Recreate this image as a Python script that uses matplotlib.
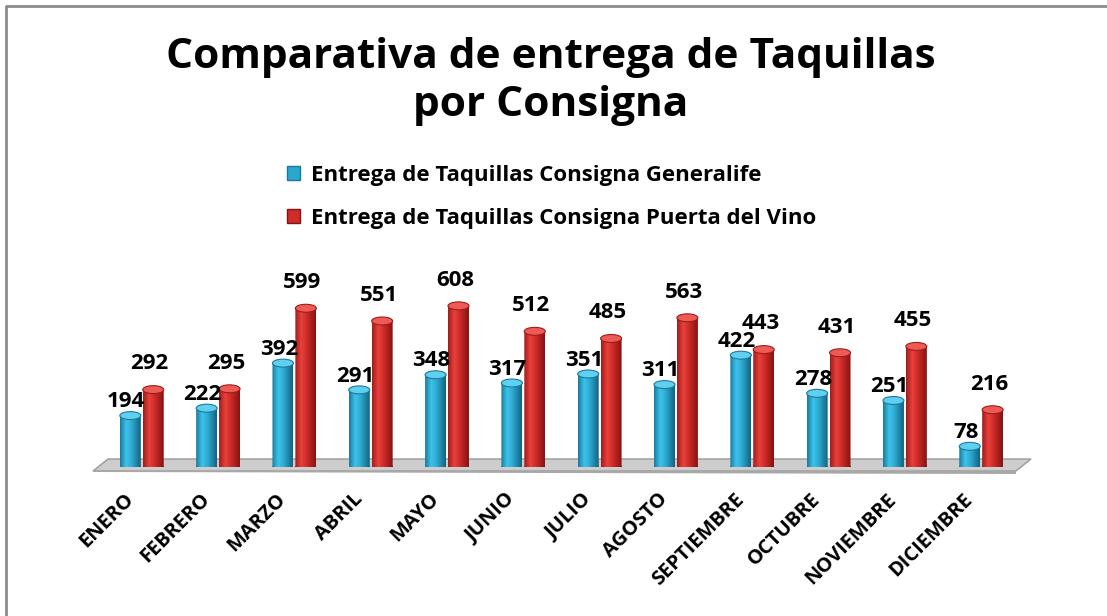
import matplotlib.pyplot as plt
import numpy as np
from matplotlib.colors import LinearSegmentedColormap
from matplotlib.patches import Ellipse, Polygon, Patch
from matplotlib.lines import Line2D
from matplotlib.path import Path

meses = ['ENERO', 'FEBRERO', 'MARZO', 'ABRIL', 'MAYO', 'JUNIO', 'JULIO',
         'AGOSTO', 'SEPTIEMBRE', 'OCTUBRE', 'NOVIEMBRE', 'DICIEMBRE']
generalife = [194, 222, 392, 291, 348, 317, 351, 311, 422, 278, 251, 78]
puerta_vino = [292, 295, 599, 551, 608, 512, 485, 563, 443, 431, 455, 216]
series = ['Entrega de Taquillas Consigna Generalife',
          'Entrega de Taquillas Consigna Puerta del Vino']

W, H = 1107, 616
FONT = ['Open Sans', 'DejaVu Sans']


def fx(x):
    return x / W


def fy(y):
    return 1 - y / H


# cylinder shading, left to right across each bar
cmap_azul = LinearSegmentedColormap.from_list(
    'azul', [(0, '#177a9c'), (0.3, '#3ec3ea'), (0.55, '#2eabd3'), (1, '#12627e')])
cmap_rojo = LinearSegmentedColormap.from_list(
    'rojo', [(0, '#a11a1a'), (0.3, '#e8413c'), (0.55, '#cf2c29'), (1, '#851212')])
tapa = {'azul': '#5fd0f0', 'rojo': '#ee5b55'}
base_color = {'azul': '#25a0c8', 'rojo': '#c82a27'}

fig = plt.figure(figsize=(W / 100, H / 100), dpi=100)
fig.patch.set_facecolor('white')

# chart area: base of the bars at y=467px, 0.265 px per unit
y_max = 700
ax = fig.add_axes([fx(96), fy(467), fx(1027 - 96), 700 * 0.265 / H])
ax.patch.set_visible(False)
for s in ax.spines.values():
    s.set_visible(False)
ax.set_yticks([])

x = np.arange(len(meses))
ancho = 0.275
desp = 0.15
cap = 30  # ellipse height in data units

gradiente = np.linspace(0, 1, 256).reshape(1, -1)

for valores, off, nombre, cmap in [(generalife, -desp, 'azul', cmap_azul),
                                   (puerta_vino, desp, 'rojo', cmap_rojo)]:
    barras = ax.bar(x + off, valores, ancho, color=base_color[nombre], zorder=2)
    for rect, v in zip(barras, valores):
        x0 = rect.get_x()
        xc = x0 + ancho / 2
        cuerpo = rect.get_patch_transform().transform_path(rect.get_path())
        fondo = Ellipse((xc, 0), ancho, cap)
        fondo_path = fondo.get_patch_transform().transform_path(fondo.get_path())
        clip = Path.make_compound_path(cuerpo, fondo_path)
        im = ax.imshow(gradiente, cmap=cmap, aspect='auto', zorder=3,
                       extent=[x0, x0 + ancho, -cap / 2, v], interpolation='bilinear')
        im.set_clip_path(clip, ax.transData)
        rect.set_visible(False)
        ax.add_patch(Ellipse((xc, v), ancho, cap, facecolor=tapa[nombre],
                             edgecolor=cmap(0.85), linewidth=0.8, zorder=4))

# value labels
for i in range(len(meses)):
    ax.annotate(str(generalife[i]), (x[i] - desp, generalife[i]),
                xytext=(-3, 6), textcoords='offset points', ha='center',
                va='baseline', fontsize=16, fontweight='bold', family=FONT, zorder=6)
    ax.annotate(str(puerta_vino[i]), (x[i] + desp, puerta_vino[i]),
                xytext=(-2.5, 14.5), textcoords='offset points', ha='center',
                va='baseline', fontsize=16, fontweight='bold', family=FONT, zorder=6)

ax.set_xlim(-0.6, len(meses) - 0.4)
ax.set_ylim(0, y_max)
ax.set_xticks(x - 0.24)
ax.set_xticklabels(meses, rotation=45, ha='right', rotation_mode='anchor',
                   fontsize=14.5, fontweight='bold', family=FONT)
ax.tick_params(axis='x', length=0, pad=16)

# floor under the bars
suelo = Polygon([(fx(108), fy(459)), (fx(1031), fy(459)), (fx(1016), fy(471)),
                 (fx(93), fy(471))], closed=True, transform=fig.transFigure,
                facecolor='#cdcdcd', edgecolor='#9a9a9a', linewidth=1, zorder=-1)
fig.add_artist(suelo)
frente = Polygon([(fx(93), fy(471)), (fx(1016), fy(471)), (fx(1016), fy(474)),
                  (fx(93), fy(472))], closed=True, transform=fig.transFigure,
                 facecolor='#a8a8a8', edgecolor='none', zorder=-1)
fig.add_artist(frente)

# title
fig.text(fx(551), fy(37), 'Comparativa de entrega de Taquillas\npor Consigna',
         ha='center', va='top', fontsize=30.5, fontweight='bold', family=FONT,
         linespacing=1.24)

# legend
handles = [Patch(facecolor='#2aa7cf', edgecolor='#177a9c'),
           Patch(facecolor='#cf2c29', edgecolor='#851212')]
fig.legend(handles, series, loc='upper left', bbox_to_anchor=(fx(267), fy(145)),
           frameon=False, handlelength=0.6, handleheight=0.6, handletextpad=0.5,
           labelspacing=1.0, prop={'family': FONT, 'weight': 'bold', 'size': 16})

# outer frame
fig.add_artist(Line2D([fx(6), fx(6), fx(W)], [0, fy(6), fy(6)],
                      transform=fig.transFigure, color='#8c8c8c', linewidth=2))

fig.savefig('out.png', dpi=100)
